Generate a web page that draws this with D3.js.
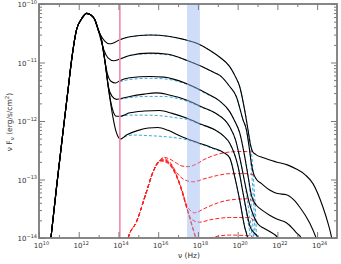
<!DOCTYPE html>
<html><head><meta charset="utf-8">
<script src="https://cdn.jsdelivr.net/npm/d3@7"></script>
<style>html,body{margin:0;padding:0;background:#fff;}svg{display:block;}</style>
</head><body><svg id="c" width="341" height="264"></svg>
<script>
// values are [log10(nu / Hz), log10(nu F_nu / erg s^-1 cm^-2)]
const xMajorExp = [10,12,14,16,18,20,22,24];
const xMinorExp = [11,13,15,17,19,21,23];
const yMajorExp = [-14,-13,-12,-11,-10];
const pinkLineLogNu = 14.07;
const xrayBandLogNu = [17.45, 18.1];

const syncRise = [[10.45,-14.5],[10.60,-14.0],[10.90,-13.08],[11.22,-12.15],[11.45,-11.5],[11.64,-10.96],[11.89,-10.44],[12.15,-10.25],[12.40,-10.16],[12.62,-10.19],[12.81,-10.27],[12.98,-10.44]];

const black1 = [[13.10,-10.53],[13.30,-10.63],[13.53,-10.68],[13.75,-10.665],[14.07,-10.61],[14.57,-10.56],[15.58,-10.53],[16.5,-10.55],[17.24,-10.60],[18.0,-10.68],[18.59,-10.79],[19.10,-10.91],[19.60,-11.07],[19.90,-11.25],[20.10,-11.41],[20.35,-11.81],[20.52,-12.15],[20.64,-12.40],[20.75,-12.52],[20.9,-12.57],[21.3,-12.63],[21.94,-12.70],[22.5,-12.75],[22.95,-12.82],[23.4,-12.92],[23.79,-13.07],[24.29,-13.47],[24.55,-13.75],[24.72,-13.98],[24.8,-14.15]];
const black2 = [[13.12,-10.62],[13.28,-10.80],[13.47,-10.92],[13.77,-10.97],[14.07,-10.94],[14.57,-10.88],[15.58,-10.84],[16.5,-10.86],[17.42,-10.96],[18.2,-11.07],[18.74,-11.16],[19.10,-11.22],[19.60,-11.41],[19.93,-11.58],[20.27,-11.98],[20.44,-12.15],[20.58,-12.45],[20.70,-12.75],[20.80,-12.90],[20.95,-13.0],[21.2,-13.07],[21.61,-13.18],[22.0,-13.24],[22.45,-13.26],[22.8,-13.34],[23.12,-13.47],[23.62,-13.74],[23.95,-14.0],[24.05,-14.1]];
const black3 = [[13.15,-10.62],[13.32,-10.98],[13.45,-11.2],[13.62,-11.32],[13.86,-11.35],[14.07,-11.31],[14.57,-11.26],[15.58,-11.24],[16.3,-11.25],[17.42,-11.36],[18.5,-11.54],[19.1,-11.66],[19.6,-11.84],[19.85,-12.0],[20.10,-12.2],[20.35,-12.6],[20.55,-13.0],[20.7,-13.28],[20.85,-13.4],[20.94,-13.44],[21.3,-13.54],[21.61,-13.61],[22.0,-13.68],[22.45,-13.74],[22.75,-13.83],[22.95,-13.91],[23.2,-14.0],[23.3,-14.1]];
const black4 = [[13.15,-10.62],[13.32,-10.98],[13.5,-11.42],[13.68,-11.58],[13.90,-11.63],[14.07,-11.62],[14.57,-11.58],[15.3,-11.54],[15.91,-11.52],[16.5,-11.55],[17.42,-11.64],[18.2,-11.76],[18.85,-11.86],[19.6,-12.10],[19.9,-12.33],[20.15,-12.7],[20.4,-13.12],[20.6,-13.42],[20.8,-13.62],[21.02,-13.76],[21.3,-13.83],[21.61,-13.89],[22.03,-14.0],[22.2,-14.1]];
const black5 = [[13.15,-10.62],[13.32,-10.98],[13.5,-11.45],[13.70,-11.80],[13.90,-11.92],[14.07,-11.92],[14.57,-11.86],[15.3,-11.83],[16.08,-11.82],[16.7,-11.87],[17.42,-11.95],[18.2,-12.06],[18.85,-12.15],[19.3,-12.26],[19.60,-12.38],[20.02,-12.78],[20.27,-13.23],[20.47,-13.58],[20.62,-13.8],[20.8,-13.9],[21.0,-13.97],[21.2,-14.08]];
const black6 = [[13.15,-10.62],[13.32,-10.98],[13.5,-11.45],[13.73,-11.95],[13.87,-12.17],[13.98,-12.27],[14.1,-12.31],[14.4,-12.24],[15.0,-12.16],[15.5,-12.12],[15.98,-12.11],[16.5,-12.16],[17.0,-12.24],[17.42,-12.30],[18.0,-12.37],[18.74,-12.46],[19.3,-12.54],[19.60,-12.63],[19.85,-12.95],[20.10,-13.35],[20.35,-13.81],[20.52,-14.03],[20.6,-14.2]];

const cyan1 = [[14.07,-10.61],[14.57,-10.56],[15.58,-10.53],[16.5,-10.55],[17.24,-10.60],[18.0,-10.68],[18.59,-10.79],[19.10,-10.91],[19.60,-11.07],[19.90,-11.25],[20.10,-11.41],[20.35,-11.81],[20.52,-12.15],[20.70,-12.55],[20.80,-13.01],[20.88,-13.44],[20.95,-14.0],[20.98,-14.3]];
const cyan2 = [[14.07,-10.94],[14.57,-10.88],[15.58,-10.85],[16.5,-10.87],[17.42,-10.96],[18.2,-11.07],[18.74,-11.16],[19.10,-11.22],[19.60,-11.41],[19.93,-11.58],[20.27,-11.98],[20.44,-12.15],[20.62,-12.55],[20.73,-13.01],[20.81,-13.44],[20.88,-14.0],[20.91,-14.3]];
const cyan3 = [[14.07,-11.33],[14.57,-11.29],[15.58,-11.27],[16.3,-11.28],[17.42,-11.37],[18.5,-11.55],[19.1,-11.66],[19.6,-11.84],[19.85,-12.0],[20.10,-12.2],[20.35,-12.6],[20.55,-13.0],[20.68,-13.44],[20.80,-14.0],[20.84,-14.3]];
const cyan4 = [[14.07,-11.63],[14.57,-11.60],[15.5,-11.58],[16.2,-11.58],[17.42,-11.66],[18.2,-11.77],[18.85,-11.86],[19.6,-12.10],[19.9,-12.33],[20.15,-12.7],[20.4,-13.15],[20.58,-13.58],[20.72,-14.0],[20.76,-14.3]];
const cyan5 = [[14.07,-11.93],[14.5,-11.90],[15.3,-11.90],[16.1,-11.91],[17.0,-11.95],[17.42,-11.97],[18.2,-12.07],[18.85,-12.15],[19.3,-12.26],[19.6,-12.38],[20.02,-12.78],[20.27,-13.23],[20.47,-13.64],[20.63,-14.0],[20.68,-14.3]];
const cyan6 = [[14.07,-12.32],[14.4,-12.26],[14.74,-12.24],[15.5,-12.25],[16.42,-12.27],[17.42,-12.32],[18.0,-12.38],[18.74,-12.47],[19.3,-12.55],[19.6,-12.63],[19.85,-12.95],[20.10,-13.35],[20.35,-13.81],[20.52,-14.03],[20.56,-14.3]];

const redRise = [[14.3,-14.3],[14.49,-14.0],[14.91,-13.72],[15.41,-13.21],[15.74,-12.87],[16.08,-12.68]];
const red1 = [[16.25,-12.62],[16.58,-12.65],[16.92,-12.72],[17.2,-12.77],[17.5,-12.78],[17.9,-12.74],[18.3,-12.66],[18.8,-12.59],[19.6,-12.53],[20.2,-12.52],[20.7,-12.53]];
const red2 = [[16.25,-12.64],[16.58,-12.70],[16.92,-12.88],[17.3,-13.0],[17.76,-13.04],[18.3,-12.99],[19.0,-12.93],[19.6,-12.90],[20.5,-12.90],[20.85,-12.93]];
const red3 = [[16.25,-12.66],[16.58,-12.72],[16.92,-12.92],[17.2,-13.18],[17.45,-13.45],[17.84,-13.57],[18.3,-13.50],[19.0,-13.40],[19.6,-13.35],[20.5,-13.33],[20.94,-13.42]];
const red4 = [[16.25,-12.67],[16.58,-12.73],[16.92,-12.93],[17.17,-13.17],[17.42,-13.46],[17.67,-13.68],[18.09,-13.73],[18.6,-13.69],[19.6,-13.65],[20.5,-13.65],[21.02,-13.76]];
const red5 = [[16.25,-12.68],[16.58,-12.74],[16.92,-12.94],[17.17,-13.17],[17.42,-13.46],[17.67,-13.74],[17.92,-14.0],[18.1,-14.1],[18.5,-14.02],[19.0,-13.97],[19.6,-13.95],[20.5,-13.96],[21.0,-14.05]];
const red6 = [[16.25,-12.69],[16.58,-12.75],[16.92,-12.95],[17.17,-13.18],[17.42,-13.47],[17.67,-13.76],[17.92,-14.05],[18.2,-14.4]];

const blackSeries = [black1,black2,black3,black4,black5,black6].map(s => syncRise.concat(s));
const cyanSeries = [cyan1,cyan2,cyan3,cyan4,cyan5,cyan6];
const redSeries = [red1,red2,red3,red4,red5,red6].map(s => redRise.concat(s));

const L = 39, R = 337, T = 4, B = 238;
const svg = d3.select('#c');
const x = d3.scaleLog().domain([1e10, 1e25]).range([L, R]);
const y = d3.scaleLog().domain([1e-14, 1e-10]).range([B, T]);
const line = d3.line().x(d => x(Math.pow(10, d[0]))).y(d => y(Math.pow(10, d[1]))).curve(d3.curveMonotoneX);

svg.append('defs').append('clipPath').attr('id','clip')
  .append('rect').attr('x', L).attr('y', T).attr('width', R - L).attr('height', B - T);
const g = svg.append('g').attr('clip-path', 'url(#clip)');

g.selectAll('path.cy').data(cyanSeries).join('path').attr('class','cy')
  .attr('d', line).attr('fill','none').attr('stroke','#36a9de').attr('stroke-width',1).attr('stroke-dasharray','3,2');
g.selectAll('path.rd').data(redSeries).join('path').attr('class','rd')
  .attr('d', line).attr('fill','none').attr('stroke','#ff1f1f').attr('stroke-width',1).attr('stroke-dasharray','4,2');
g.selectAll('path.bk').data(blackSeries).join('path').attr('class','bk')
  .attr('d', line).attr('fill','none').attr('stroke','#000').attr('stroke-width',1.1);

g.append('rect')
  .attr('x', x(Math.pow(10, xrayBandLogNu[0]))).attr('y', T)
  .attr('width', x(Math.pow(10, xrayBandLogNu[1])) - x(Math.pow(10, xrayBandLogNu[0])))
  .attr('height', B - T).attr('fill','rgb(150,180,240)').attr('fill-opacity',0.45);
g.append('line')
  .attr('x1', x(Math.pow(10, pinkLineLogNu))).attr('x2', x(Math.pow(10, pinkLineLogNu)))
  .attr('y1', T).attr('y2', B).attr('stroke','#f08cab').attr('stroke-width',1.6);

// axes
const axCol = '#7a7a7a';
const yMinor = [];
yMajorExp.slice(0, -1).forEach(e => { for (let k = 2; k <= 9; k++) yMinor.push(k * Math.pow(10, e)); });
const xMaj = xMajorExp.map(e => Math.pow(10, e));
const xMin = xMinorExp.map(e => Math.pow(10, e));
const yMaj = yMajorExp.map(e => Math.pow(10, e));
function styleAxis(sel) {
  sel.select('.domain').remove();
  sel.selectAll('line').attr('stroke', axCol).attr('stroke-width', 1);
  sel.selectAll('text').remove();
}
svg.append('g').attr('transform',`translate(0,${B})`).call(d3.axisBottom(x).tickValues(xMaj).tickSize(-6)).call(styleAxis);
svg.append('g').attr('transform',`translate(0,${B})`).call(d3.axisBottom(x).tickValues(xMin).tickSize(-3)).call(styleAxis);
svg.append('g').attr('transform',`translate(0,${T})`).call(d3.axisTop(x).tickValues(xMaj).tickSize(-6)).call(styleAxis);
svg.append('g').attr('transform',`translate(0,${T})`).call(d3.axisTop(x).tickValues(xMin).tickSize(-3)).call(styleAxis);
svg.append('g').attr('transform',`translate(${L},0)`).call(d3.axisLeft(y).tickValues(yMaj).tickSize(-6)).call(styleAxis);
svg.append('g').attr('transform',`translate(${L},0)`).call(d3.axisLeft(y).tickValues(yMinor).tickSize(-3)).call(styleAxis);
svg.append('g').attr('transform',`translate(${R},0)`).call(d3.axisRight(y).tickValues(yMaj).tickSize(-6)).call(styleAxis);
svg.append('g').attr('transform',`translate(${R},0)`).call(d3.axisRight(y).tickValues(yMinor).tickSize(-3)).call(styleAxis);
svg.append('rect').attr('x', L).attr('y', T).attr('width', R - L).attr('height', B - T)
  .attr('fill','none').attr('stroke', axCol).attr('stroke-width', 1.8);

const font = 'DejaVu Sans, sans-serif';
const txtCol = '#333';
xMajorExp.forEach(e => {
  const t = svg.append('text').attr('x', x(Math.pow(10, e)) + 2.5).attr('y', 248)
    .attr('text-anchor','middle').attr('font-family', font).attr('font-size', 7).attr('fill', txtCol);
  t.append('tspan').text('10');
  t.append('tspan').attr('dy', -3.5).attr('font-size', 5).text(String(e));
});
yMajorExp.forEach(e => {
  const t = svg.append('text').attr('x', 37).attr('y', y(Math.pow(10, e)) + 3)
    .attr('text-anchor','end').attr('font-family', font).attr('font-size', 7).attr('fill', txtCol);
  t.append('tspan').text('10');
  t.append('tspan').attr('dy', -3.5).attr('font-size', 5).text('\u2212' + String(-e));
});

const xt = svg.append('text').attr('x', 189).attr('y', 258).attr('text-anchor','middle')
  .attr('font-family', font).attr('font-size', 7.5).attr('fill', txtCol);
xt.append('tspan').text('\u03bd (Hz)');

const yt = svg.append('text').attr('transform','translate(11.5,122) rotate(-90)').attr('text-anchor','middle')
  .attr('font-family', font).attr('font-size', 7.5).attr('fill', txtCol);
yt.append('tspan').text('\u03bd F');
yt.append('tspan').attr('dy', 2).attr('font-size', 5.5).text('\u03bd');
yt.append('tspan').attr('dy', -2).text(' (erg/s/cm');
yt.append('tspan').attr('dy', -3).attr('font-size', 5.5).text('2');
yt.append('tspan').attr('dy', 3).text(')');
</script>
</body></html>
